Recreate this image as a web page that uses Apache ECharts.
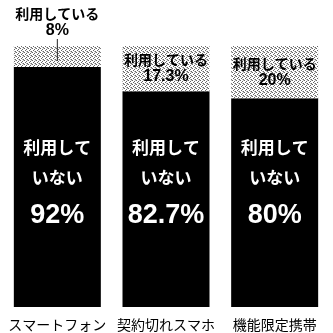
<!DOCTYPE html>
<html><head><meta charset="utf-8">
<script src="https://cdn.jsdelivr.net/npm/echarts@6/dist/echarts.min.js"></script>
<style>html,body{margin:0;padding:0;background:#fff}#c{width:333px;height:333px}</style>
</head><body><div id="c"></div>
<script>
var categories = ['スマートフォン', '契約切れスマホ', '機能限定携帯'];
var notUsing = [92, 82.7, 80];
var using = [8, 17.3, 20];
var usingLabel = '利用している';
var notUsingLabel = ['利用して', 'いない'];

// dotted halftone pattern
var pc = document.createElement('canvas');
pc.width = 4; pc.height = 4;
var ctx = pc.getContext('2d');
ctx.fillStyle = '#ffffff'; ctx.fillRect(0,0,4,4);
ctx.fillStyle = '#666666';
[[0,0],[2,1],[1,2],[3,3]].forEach(function(p){ctx.fillRect(p[0],p[1],1,1);});
ctx.fillStyle = '#bbbbbb';
[[2,3],[3,0]].forEach(function(p){ctx.fillRect(p[0],p[1],1,1);});

var font = '"Noto Sans CJK JP", sans-serif';
var chart = echarts.init(document.getElementById('c'));
chart.setOption({
  animation: false,
  grid: {left: 3, right: 4, top: 46, bottom: 26},
  xAxis: {
    type: 'category', data: categories,
    axisLine: {show: false}, axisTick: {show: false},
    axisLabel: {color: '#000', fontSize: 14, fontFamily: font, margin: 11, interval: 0, hideOverlap: false}
  },
  yAxis: {type: 'value', min: 0, max: 100, show: false},
  series: [
    {
      type: 'bar', stack: 's', data: notUsing, barWidth: 87,
      itemStyle: {color: '#000'},
      label: {
        show: true, position: 'insideBottom', distance: 68,
        formatter: function(p){ return '{a|' + notUsingLabel[0] + '}\n{a|' + notUsingLabel[1] + '}\n{c|' + p.value + '%}'; },
        rich: {
          a: {color: '#fff', fontSize: 17, fontWeight: 'bold', fontFamily: font, lineHeight: 30},
          c: {color: '#fff', fontSize: 27, fontWeight: 'bold', fontFamily: '"Liberation Sans", Arial, sans-serif', lineHeight: 46}
        }
      }
    },
    {
      type: 'bar', stack: 's', barWidth: 87,
      data: using.map(function(v, i){
        if (i === 0) {
          return {value: v, label: {
            position: 'insideBottom', distance: 6,
            formatter: function(p){ return '{t|' + usingLabel + '}\n{p|' + p.value + '%}\n{l| }'; }
          }};
        }
        return v;
      }),
      itemStyle: {color: {image: pc, repeat: 'repeat'}},
      label: {
        show: true, position: 'inside',
        formatter: function(p){ return '{t|' + usingLabel + '}\n{p|' + p.value + '%}'; },
        rich: {
          t: {color: '#000', fontSize: 14, fontWeight: 'bold', fontFamily: font, lineHeight: 17},
          p: {color: '#000', fontSize: 16, fontWeight: 'bold', fontFamily: '"Liberation Sans", Arial, sans-serif', lineHeight: 17},
          l: {width: 1, height: 22, lineHeight: 22, backgroundColor: '#222', fontSize: 1}
        }
      }
    }
  ]
});
</script></body></html>
